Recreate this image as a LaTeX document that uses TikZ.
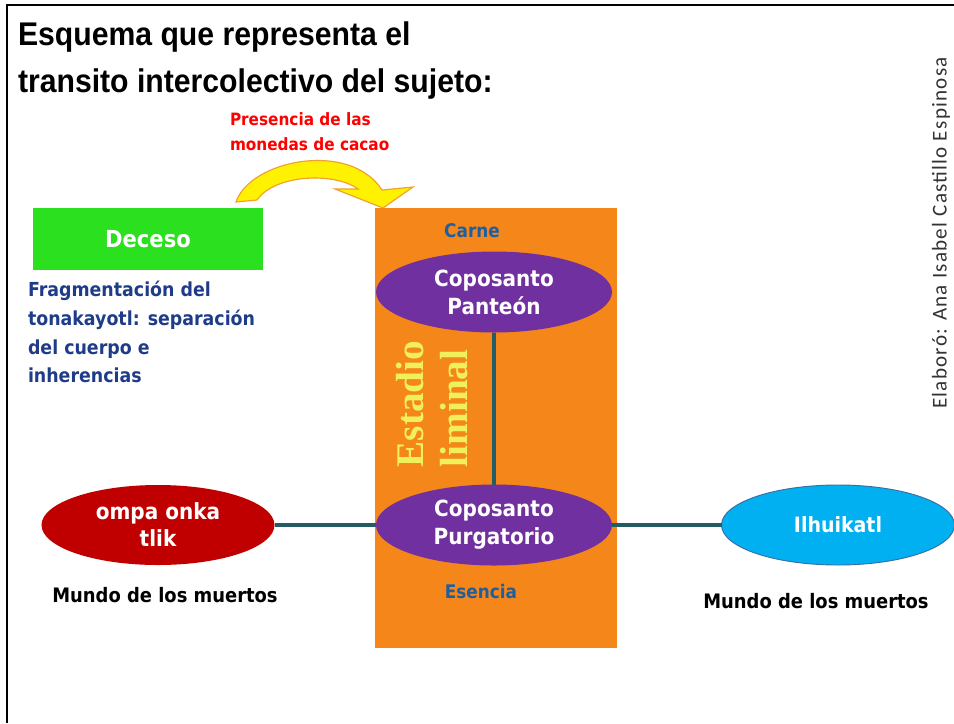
\documentclass[tikz,border=0pt]{standalone}
\usepackage{fontspec}
\usetikzlibrary{shapes.geometric}

\newfontfamily\titlefont[FakeStretch=0.92]{Liberation Sans}
\newfontfamily\boxfont[FakeStretch=0.9]{DejaVu Sans}
\newfontfamily\stagefont{Liberation Serif}
\newfontfamily\creditfont[LetterSpace=6]{Carlito}

\definecolor{deathgreen}{HTML}{2BE01E}
\definecolor{stageorange}{HTML}{F5861A}
\definecolor{graveviolet}{HTML}{7030A0}
\definecolor{underred}{HTML}{C00000}
\definecolor{skyblue}{HTML}{00B0F0}
\definecolor{skyedge}{HTML}{3A6EA5}
\definecolor{linkteal}{HTML}{245C66}
\definecolor{notenavy}{HTML}{1F3C88}
\definecolor{tagblue}{HTML}{1F5F9F}
\definecolor{stageyellow}{HTML}{EFF05A}
\definecolor{arrowedge}{HTML}{F0A030}

\begin{document}
\begin{tikzpicture}[x=0.03cm, y=-0.03cm]
  \tikzset{
    base/.style={
      inner sep=0pt, outer sep=0pt,
      align=center,
    },
    stagebox/.style={
      base,
      rectangle, fill=stageorange,
      minimum width=7.26cm, minimum height=13.2cm,
    },
    deathbox/.style={
      base,
      rectangle, fill=deathgreen, text=white,
      minimum width=6.9cm, minimum height=1.86cm,
      font=\boxfont\bfseries\fontsize{20}{24}\selectfont,
    },
    grave/.style={
      base,
      ellipse, fill=graveviolet, text=white,
      minimum width=7.08cm, minimum height=2.43cm,
      font=\boxfont\bfseries\fontsize{19}{24}\selectfont,
    },
    world/.style={
      base,
      ellipse, text=white,
      minimum width=6.99cm, minimum height=2.4cm,
      font=\boxfont\bfseries\fontsize{19}{23}\selectfont,
    },
    note/.style={
      base, align=left,
      font=\boxfont\bfseries\fontsize{16.5}{24.6}\selectfont,
    },
    tag/.style={
      base, text=tagblue,
      font=\boxfont\bfseries\fontsize{16}{19}\selectfont,
    },
    link/.style={draw=linkteal, line width=3.2pt},
  }

  \useasboundingbox (0,0) rectangle (954,723);
  \draw[line width=1.6pt] (7,723) -- (7,5) -- (954,5);

  \node[base, anchor=north west, align=left,
    font=\titlefont\bfseries\fontsize{28}{40}\selectfont] (title) at (18,22)
    {Esquema que representa el\\transito intercolectivo del sujeto:};

  \node[note, anchor=north west, text=red, font=\boxfont\bfseries\fontsize{14.5}{21}\selectfont]
    (cacao) at (230,113) {Presencia de las\\monedas de cacao};

  \filldraw[fill=yellow, draw=arrowedge, line width=1pt]
    (236,202) .. controls (250,160) and (350,140) .. (382,190)
    -- (413,187) -- (383,208) -- (335,189) -- (358,189)
    .. controls (335,172) and (275,174) .. (257,200) -- cycle;

  \node[deathbox] (deceso) at (148,239) {Deceso};
  \node[note, anchor=north west, text=notenavy] (fragment) at (28,281)
    {Fragmentación del\\tonakayotl: separación\\del cuerpo e\\inherencias};

  \node[stagebox] (liminal) at (496,428) {};
  \node[base, rotate=90, align=left, text=stageyellow,
    font=\stagefont\bfseries\fontsize{33.5}{38}\selectfont] (estadio) at (432,404)
    {Estadio\\liminal};
  \node[tag] (carne) at (472,231) {Carne};
  \node[tag] (esencia) at (481,592) {Esencia};

  \node[grave] (panteon) at (494,292) {Coposanto\\Panteón};
  \node[grave] (purgatorio) at (494,525) {Coposanto\\Purgatorio};
  \node[world, fill=underred] (ompa) at (158,525) {ompa onka\\tlik};
  \node[world, fill=skyblue, draw=skyedge, line width=0.8pt,
    font=\boxfont\bfseries\fontsize{18}{22}\selectfont] (ilhuikatl) at (838,525) {Ilhuikatl};

  \draw[link] (panteon) -- (purgatorio);
  \draw[link] (ompa) -- (purgatorio);
  \draw[link] (purgatorio) -- (ilhuikatl);

  \node[tag, text=black, font=\boxfont\bfseries\fontsize{17}{20}\selectfont] (mundoleft) at (165,595)
    {Mundo de los muertos};
  \node[tag, text=black, font=\boxfont\bfseries\fontsize{17}{20}\selectfont] (mundoright) at (816,601)
    {Mundo de los muertos};

  \node[base, rotate=90, text=black!80, font=\creditfont\fontsize{18}{21}\selectfont]
    (credit) at (941,233) {Elaboró: Ana Isabel Castillo Espinosa};
\end{tikzpicture}
\end{document}
